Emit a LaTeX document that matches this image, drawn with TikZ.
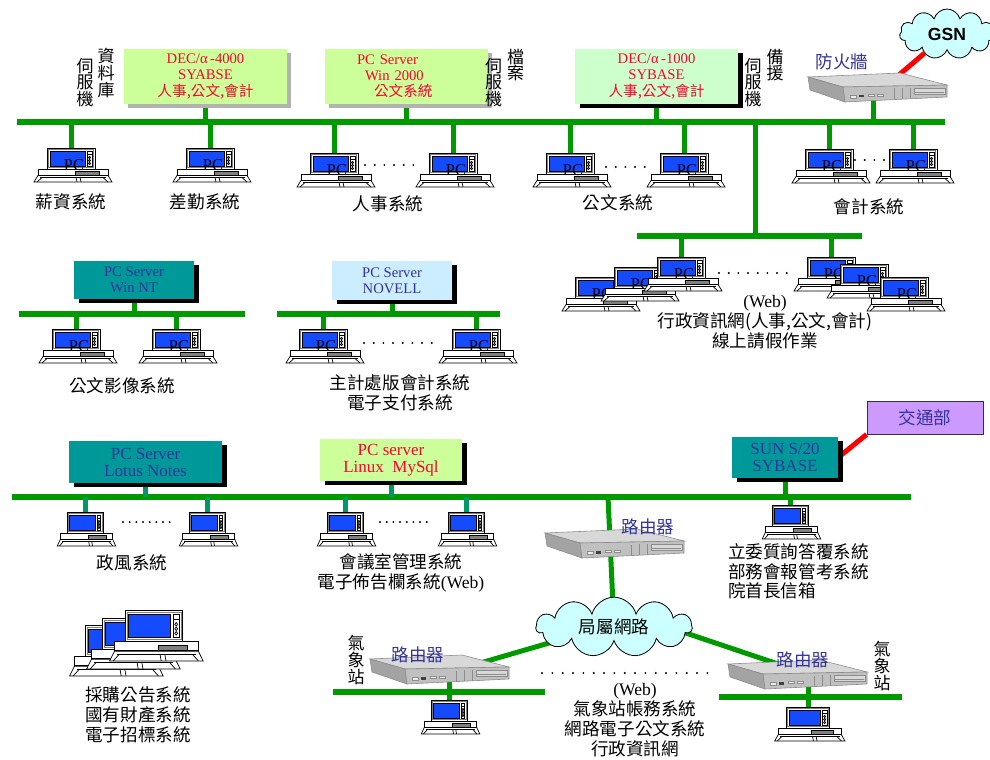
\documentclass[tikz,border=0pt]{standalone}
\usepackage{fontspec}
\setmainfont{Liberation Serif}
\newfontfamily\cjk{Noto Sans CJK TC}
\newfontfamily\arial{Liberation Sans}
\usetikzlibrary{positioning,shapes.symbols,shadows,backgrounds}
\definecolor{lan}{RGB}{0,153,0}
\definecolor{lanteal}{RGB}{0,153,102}
\definecolor{srvlime}{RGB}{204,255,153}
\definecolor{srvmint}{RGB}{204,255,204}
\definecolor{srvteal}{RGB}{0,153,153}
\definecolor{srvsky}{RGB}{204,236,255}
\definecolor{srvlilac}{RGB}{204,153,255}
\definecolor{txtred}{RGB}{255,0,51}
\definecolor{txtblue}{RGB}{51,51,153}
\definecolor{scrblue}{RGB}{20,75,255}
\definecolor{cloudcyan}{RGB}{204,255,255}
\definecolor{shadowgray}{RGB}{178,178,178}
\definecolor{boxtop}{RGB}{216,216,216}
\definecolor{boxfront}{RGB}{192,192,192}
\newcommand{\lblfont}{\cjk\fontsize{15}{17}\selectfont}
\newcommand{\vfont}{\cjk\fontsize{14.5}{14.3}\selectfont}
\newcommand{\srvfont}{\fontsize{12.5}{13.8}\selectfont}
\newcommand{\srvbig}{\fontsize{14.5}{14.5}\selectfont}
\newcommand{\pcfont}{\fontsize{14}{14}\selectfont}
\tikzset{
  bus/.style={line width=1.7mm,draw=lan},
  drop/.style={line width=1.5mm,draw=lan},
  tdrop/.style={line width=1.5mm,draw=lanteal},
  wan/.style={line width=1.5mm,draw=red},
  dots/.style={line width=0.65mm,line cap=round,dash pattern=on 0pt off 2.9mm},
  srv/.style={inner sep=0pt,align=center},
  gshadow/.style={drop shadow={shadow xshift=1.2mm,shadow yshift=-1.2mm,fill=shadowgray,opacity=1}},
  kshadow/.style={drop shadow={shadow xshift=1.4mm,shadow yshift=-1.3mm,fill=black,opacity=1}},
  lbl/.style={font=\lblfont,align=center,inner sep=0pt},
  vlbl/.style={font=\vfont,align=center,inner sep=0pt},
  devlbl/.style={font=\lblfont,text=txtblue,inner sep=0pt},
  net/.style={cloud,cloud puffs=11,aspect=2.5,draw,fill=cloudcyan,line width=0.7pt,inner sep=0pt},
  pc/.pic={
    \begin{scope}[line width=0.6pt]
    \draw[fill=white] (-24,0) rectangle (24,21); \draw[gray] (-22.5,1.5) rectangle (22.5,19.5);
    \draw[fill=scrblue] (-21,3) rectangle (14,18); \draw[fill=white] (16,3) rectangle (21,18);
    \draw (16,6) -- (21,6); \draw (18.5,9.5) circle[radius=0.35mm]; \draw (18.5,12.5) circle[radius=0.35mm]; \draw (18.5,15.5) circle[radius=0.35mm];
    \draw[fill=white] (-33,21) rectangle (37,27); \draw[fill=gray] (4,23.5) rectangle (28,27);
    \draw[fill=white] (-33,27.5) -- (37,27.5) -- (41,34) -- (-37,34) -- cycle;
    \draw (-31,29.5) -- (35,29.5); \draw (-29,29.5) -- (-34,34); \draw (32,29.5) -- (37,34);
    \draw (5,29.5) -- (6,34); \draw (9,29.5) -- (10,34);
    \end{scope}
  },
  pcx/.pic={\pic {pc}; \node[font=\pcfont,inner sep=0pt] at (3,17) {PC};},
  device/.pic={
    \begin{scope}[line width=0.5pt,draw=black!45]
    \draw[fill=boxtop] (0,4) -- (92,0) -- (139,12) -- (35,14) -- cycle;
    \draw[fill=boxfront!85!black] (0,4) -- (35,14) -- (37,29) -- (2,17) -- cycle;
    \draw[fill=boxfront] (35,14) -- (139,12) -- (139,24) -- (37,29) -- cycle;
    \draw[fill=white!85!gray] (42,22) rectangle (48,25); \fill[black!75] (51,22) rectangle (56,24.5);
    \draw[fill=white!85!gray] (60,21) rectangle (66,23.5); \draw[fill=white!85!gray] (69,21) rectangle (75,23.5);
    \draw (86,15.5) -- (86,26.5); \draw (94,15.3) -- (94,26); \draw (102,15) -- (102,25.5);
    \draw[fill=boxtop] (106,15) rectangle (137,21.5); \draw (107,19) -- (136,19);
    \end{scope}
  }
}
\begin{document}
\begin{tikzpicture}[x=0.3mm,y=-0.3mm]
\useasboundingbox (0,0) rectangle (990,760);

% upper floor backbone
\coordinate (tw) at (17,122); \coordinate (te) at (945,122);
\node[srv,gshadow,fill=srvlime,text=txtred,font=\srvfont,minimum width=48.9mm,minimum height=16.5mm] (dbA) at (205.5,76.5) {DEC/α\,-4000\\SYABSE\\{\cjk 人事,公文,會計}};
\node[srv,gshadow,fill=srvlime,text=txtred,font=\srvfont,minimum height=16.5mm,align=left,text width=29.7mm,inner xsep=9.6mm] (fsB) at (406.5,76.5) {PC Server\\\hspace*{2.4mm}Win 2000\\\hspace*{5.1mm}{\cjk 公文系統}};
\node[srv,kshadow,fill=srvmint,text=txtred,font=\srvfont,minimum width=48.9mm,minimum height=16.5mm] (bkC) at (656.5,76.5) {DEC/α\,-1000\\SYBASE\\{\cjk 人事,公文,會計}};
\node[vlbl] (dbAt) at (106,73) {資\\料\\庫}; \node[vlbl] (dbAs) at (85,82.5) {伺\\服\\機};
\node[vlbl] (fsBt) at (515.5,65) {檔\\案}; \node[vlbl] (fsBs) at (493.5,82.5) {伺\\服\\機};
\node[vlbl] (bkCt) at (775,65) {備\\援}; \node[vlbl] (bkCs) at (753,82.5) {伺\\服\\機};

% firewall to GSN
\coordinate (gsnc) at (947,34); \coordinate (fwt) at (893,80); \coordinate (fwb) at (873,98);
\node[net,minimum width=28.5mm,minimum height=15mm,font=\arial\bfseries\fontsize{15}{15}\selectfont] (gsn) at (gsnc) {GSN};
\pic at (808,73) {device};
\node[devlbl] (fwl) at (842,62) {防火牆};

\coordinate (pca) at (71,148); \coordinate (pcb) at (210,148); \coordinate (pcc) at (334,153); \coordinate (pcd) at (453,153);
\coordinate (pce) at (570,153); \coordinate (pcf) at (684,153); \coordinate (pcg) at (829,149); \coordinate (pch) at (913,149);
\pic at (pca) {pcx}; \pic at (pcb) {pcx}; \pic at (pcc) {pcx}; \pic at (pcd) {pcx};
\pic at (pce) {pcx}; \pic at (pcf) {pcx}; \pic at (pcg) {pcx}; \pic at (pch) {pcx};
\draw[dots] (365,165) -- (423,165); \draw[dots] (606,167) -- (650,167); \draw[dots] (855,160) -- (887,160);
\node[lbl] (la) at (71,202) {薪資系統}; \node[lbl] (lb) at (205,202) {差勤系統};
\node[lbl] (lc) at (388,204) {人事系統}; \node[lbl] (le) at (618,203) {公文系統}; \node[lbl] (lg) at (869,207) {會計系統};

% web branch
\coordinate (wj) at (755,122); \coordinate (ww) at (637,236); \coordinate (we) at (862,236);
\coordinate (pcw1) at (599,277); \coordinate (pcw2) at (638,267); \coordinate (pcw3) at (681,257);
\coordinate (pcw4) at (831,257); \coordinate (pcw5) at (864,264); \coordinate (pcw6) at (904,277);
\pic at (pcw1) {pcx}; \pic at (pcw2) {pcx}; \pic at (pcw3) {pcx};
\pic at (pcw4) {pcx}; \pic at (pcw5) {pcx}; \pic at (pcw6) {pcx};
\draw[dots] (719,273) -- (787,273);
\node[lbl] (lw) at (765,322) {{\rmfamily(Web)}\\行政資訊網(人事,公文,會計)\\線上請假作業};

% Win NT and NOVELL segments
\coordinate (nw) at (19,314); \coordinate (ne) at (245,314); \coordinate (vw) at (277,314); \coordinate (ve) at (500,314);
\node[srv,kshadow,fill=srvteal,text=txtblue,font=\srvfont,minimum width=36mm,minimum height=11.4mm] (ntD) at (134,280) {PC Server\\Win NT};
\node[srv,kshadow,fill=srvsky,text=txtblue,font=\srvfont,minimum width=36mm,minimum height=11.7mm] (nvE) at (392,280.5) {PC Server\\NOVELL};
\coordinate (pci) at (76,329); \coordinate (pcj) at (176,329); \coordinate (pck) at (323,329); \coordinate (pcl) at (476,329);
\pic at (pci) {pcx}; \pic at (pcj) {pcx}; \pic at (pck) {pcx}; \pic at (pcl) {pcx};
\draw[dots] (364,343) -- (432,343);
\node[lbl] (li) at (122,386) {公文影像系統};
\node[lbl] (lk) at (400,392.5) {主計處版會計系統\\電子支付系統};

% lower floor backbone
\coordinate (bw) at (12,497); \coordinate (be) at (911,497);
\node[srv,kshadow,fill=srvteal,text=txtblue,font=\srvbig,minimum width=45.9mm,minimum height=12.6mm] (lnF) at (145.5,462) {PC Server\\Lotus Notes};
\node[srv,kshadow,fill=srvlime,text=txtred,font=\srvbig,minimum width=42.6mm,minimum height=12.6mm] (lxG) at (391,460) {PC server\\Linux\ \ MySql};
\node[srv,kshadow,fill=srvteal,text=txtblue,font=\srvbig,minimum width=31.8mm,minimum height=12.3mm] (snH) at (785,457.5) {SUN S/20\\SYBASE};
\node[srv,fill=srvlilac,draw=black!80,line width=0.8pt,text=txtblue,font=\lblfont,minimum width=34.8mm,minimum height=9.9mm] (mot) at (925,417.5) {交通部};
\coordinate (pcm) at (85,512); \coordinate (pcn) at (207,512); \coordinate (pco) at (345,512); \coordinate (pcp) at (466,512); \coordinate (pcq) at (790,505);
\pic[xscale=0.75] at (pcm) {pc}; \pic[xscale=0.75] at (pcn) {pc}; \pic[xscale=0.75] at (pco) {pc}; \pic[xscale=0.75] at (pcp) {pc}; \pic[xscale=0.75] at (pcq) {pc};
\draw[dots,dash pattern=on 0pt off 2mm] (123,522) -- (175,522); \draw[dots,dash pattern=on 0pt off 2mm] (380,522) -- (433,522);
\node[lbl] (lm) at (132,563) {政風系統};
\node[lbl] (lo) at (401,573) {會議室管理系統\\電子佈告欄系統{\rmfamily(Web)}};
\node[lbl,align=left,anchor=north west] (lq) at (728,543) {立委質詢答覆系統\\部務會報管考系統\\院首長信箱};

% stand-alone workstations
\pic[xscale=1.2,yscale=1.5] at (114,625) {pc}; \pic[xscale=1.2,yscale=1.5] at (131,618) {pc}; \pic[xscale=1.2,yscale=1.5] at (154,610) {pc};
\node[lbl] (lr) at (138,715) {採購公告系統\\國有財產系統\\電子招標系統};

% routers and the bureau network
\coordinate (lanc) at (614,627); \coordinate (lanl) at (580,634); \coordinate (lanr) at (650,621);
\coordinate (rt0) at (608,497); \coordinate (rtl) at (470,666); \coordinate (rtr) at (790,668);
\coordinate (rtlb) at (449,680); \coordinate (rtrb) at (808,684);
\node[net,minimum width=46.8mm,minimum height=15.9mm,font=\lblfont] (lanet) at (lanc) {局屬網路};
\pic at (545,529) {device}; \node[devlbl] (rl0) at (648,527) {路由器};
\pic at (370,655) {device}; \node[devlbl] (rl1) at (418,655) {路由器};
\pic at (728,660) {device}; \node[devlbl] (rl2) at (803,660) {路由器};
\node[vlbl] (wx1) at (356,660) {氣\\象\\站}; \node[vlbl] (wx2) at (882,666) {氣\\象\\站};
\coordinate (sw) at (333,692); \coordinate (se) at (545,692); \coordinate (xw) at (719,697); \coordinate (xe) at (902,697);
\coordinate (pcs) at (449,700); \coordinate (pct) at (808,707);
\pic[xscale=0.75] at (pcs) {pc}; \pic[xscale=0.9] at (pct) {pc};
\draw[dots,dash pattern=on 0pt off 3.1mm] (542,673) -- (711,673);
\node[lbl] (lx) at (635,720) {{\rmfamily(Web)}\\氣象站帳務系統\\網路電子公文系統\\行政資訊網};

\begin{scope}[on background layer]
  \draw[bus] (tw) -- (te);
  \draw[drop] (dbA.south) -- (dbA.south |- tw); \draw[drop] (fsB.south) -- (fsB.south |- tw); \draw[drop] (bkC.south) -- (bkC.south |- tw);
  \draw[drop] (pca) -- (pca |- tw); \draw[drop] (pcb) -- (pcb |- tw); \draw[drop] (pcc) -- (pcc |- tw); \draw[drop] (pcd) -- (pcd |- tw);
  \draw[drop] (pce) -- (pce |- tw); \draw[drop] (pcf) -- (pcf |- tw); \draw[drop] (pcg) -- (pcg |- tw); \draw[drop] (pch) -- (pch |- tw);
  \draw[drop] (fwb) -- (fwb |- tw); \draw[wan] (fwt) -- (gsn);
  \draw[drop] (wj) -- (wj |- ww); \draw[bus] (ww) -- (we);
  \draw[drop] (pcw3) -- (pcw3 |- ww); \draw[drop] (pcw4) -- (pcw4 |- ww);
  \draw[bus] (nw) -- (ne); \draw[bus] (vw) -- (ve);
  \draw[drop] (ntD.south) -- (ntD.south |- nw); \draw[drop] (pci) -- (pci |- nw); \draw[drop] (pcj) -- (pcj |- nw);
  \draw[drop] (nvE.south) -- (nvE.south |- vw); \draw[drop] (pck) -- (pck |- vw); \draw[drop] (pcl) -- (pcl |- vw);
  \draw[bus] (bw) -- (be);
  \draw[tdrop] (lnF.south) -- (lnF.south |- bw); \draw[tdrop] (pcm) -- (pcm |- bw); \draw[tdrop] (pcn) -- (pcn |- bw);
  \draw[tdrop] (lxG.south) -- (lxG.south |- bw); \draw[tdrop] (pco) -- (pco |- bw); \draw[tdrop] (pcp) -- (pcp |- bw);
  \draw[drop] (snH.south) -- (snH.south |- bw); \draw[drop] (pcq) -- (pcq |- bw);
  \draw[wan] (snH.east) -- (mot.south west);
  \draw[drop] (rt0) -- (lanc); \draw[drop] (rtl) -- (lanl); \draw[drop] (rtr) -- (lanr);
  \draw[bus] (sw) -- (se); \draw[bus] (xw) -- (xe);
  \draw[drop] (rtlb) -- (pcs); \draw[drop] (rtrb) -- (pct);
\end{scope}
\end{tikzpicture}
\end{document}
